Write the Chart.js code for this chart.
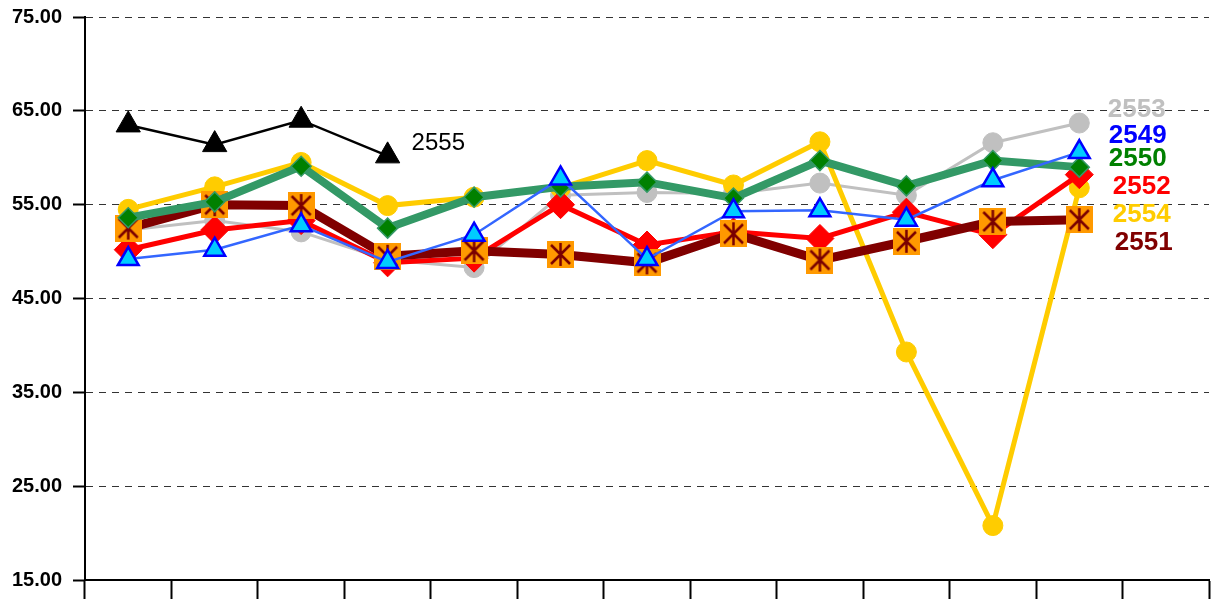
<!DOCTYPE html>
<html>
<head>
<meta charset="utf-8">
<script src="https://cdn.jsdelivr.net/npm/chart.js@4.4.0/dist/chart.umd.min.js"></script>
<style>
  html, body { margin: 0; padding: 0; background: #fff; overflow: hidden; }
  #wrap { width: 1214px; height: 599px; position: relative; }
</style>
</head>
<body>
<div id="wrap"><canvas id="myChart"></canvas></div>
<script>
// 13 slots on the x axis, the last one is left empty for the year labels
var categories = ['1', '2', '3', '4', '5', '6', '7', '8', '9', '10', '11', '12', ''];
var yTicks = [15, 25, 35, 45, 55, 65, 75];

var y2555 = [63.5, 61.4, 64.0, 60.2, null, null, null, null, null, null, null, null];
var y2549 = [49.2, 50.2, 52.8, 48.9, 51.8, 57.8, 49.2, 54.3, 54.4, 53.4, 57.6, 60.6];
var y2550 = [53.6, 55.3, 59.1, 52.5, 55.8, 56.9, 57.4, 55.7, 59.7, 57.0, 59.7, 59.0];
var y2551 = [52.5, 55.0, 54.9, 49.5, 50.1, 49.7, 48.8, 51.9, 49.1, 51.1, 53.2, 53.4];
var y2552 = [50.2, 52.3, 53.3, 48.8, 49.3, 55.0, 50.7, 52.1, 51.4, 54.2, 51.8, 58.2];
var y2554 = [54.5, 56.9, 59.5, 54.9, 55.8, 56.8, 59.7, 57.1, 61.7, 39.3, 20.8, 56.8];
var y2553 = [52.3, 53.3, 52.1, 49.1, 48.3, 56.0, 56.3, 56.2, 57.3, 56.0, 61.6, 63.7];

// orange square with an X and a vertical bar, drawn once and used as point style
var starBox = document.createElement('canvas');
starBox.width = 27; starBox.height = 27;
(function () {
    var c = starBox.getContext('2d');
    c.fillStyle = '#ff9900';
    c.fillRect(0, 0, 27, 27);
    c.strokeStyle = '#7a0000';
    c.lineWidth = 2.5;
    c.beginPath();
    c.moveTo(4, 4); c.lineTo(23, 23);
    c.moveTo(23, 4); c.lineTo(4, 23);
    c.moveTo(13.5, 2); c.lineTo(13.5, 25);
    c.stroke();
})();

var yearLabels = [
    { text: '2553', color: '#c0c0c0', y: 65.1, dx: -58 },
    { text: '2549', color: '#0000ff', y: 62.3, dx: -57 },
    { text: '2550', color: '#008000', y: 59.9, dx: -57 },
    { text: '2552', color: '#ff0000', y: 56.9, dx: -53 },
    { text: '2554', color: '#ffcc00', y: 53.9, dx: -53 },
    { text: '2551', color: '#800000', y: 50.9, dx: -51 }
];

var labelPlugin = {
    id: 'yearLabels',
    afterDatasetsDraw: function (chart) {
        var c = chart.ctx;
        var xs = chart.scales.x, ys = chart.scales.y;
        c.save();
        c.textBaseline = 'middle';
        c.textAlign = 'left';
        c.font = 'bold 26px "Liberation Sans", Arial, sans-serif';
        var x0 = xs.getPixelForValue(12);
        yearLabels.forEach(function (l) {
            c.fillStyle = l.color;
            c.fillText(l.text, x0 + l.dx, ys.getPixelForValue(l.y));
        });
        c.font = '24px "Liberation Sans", Arial, sans-serif';
        c.fillStyle = '#000';
        c.fillText('2555', xs.getPixelForValue(3) + 24, ys.getPixelForValue(61.5));
        c.restore();
    }
};

var ctx = document.getElementById('myChart').getContext('2d');
var myChart = new Chart(ctx, {
    type: 'line',
    data: {
        labels: categories,
        datasets: [
            {
                label: '2555', data: y2555,
                borderColor: '#000', borderWidth: 2.5,
                pointStyle: 'triangle', pointRadius: 14,
                pointBackgroundColor: '#000', pointBorderColor: '#000', pointBorderWidth: 1
            },
            {
                label: '2549', data: y2549,
                borderColor: '#3366ff', borderWidth: 2.5,
                pointStyle: 'triangle', pointRadius: 12,
                pointBackgroundColor: '#00ccff', pointBorderColor: '#0000ff', pointBorderWidth: 2.5
            },
            {
                label: '2550', data: y2550,
                borderColor: '#339966', borderWidth: 8,
                pointStyle: 'rectRot', pointRadius: 10,
                pointBackgroundColor: '#008000', pointBorderColor: '#339966', pointBorderWidth: 1.5
            },
            {
                label: '2551', data: y2551,
                borderColor: '#800000', borderWidth: 9,
                pointStyle: starBox, pointRadius: 13
            },
            {
                label: '2552', data: y2552,
                borderColor: '#ff0000', borderWidth: 5,
                pointStyle: 'rectRot', pointRadius: 14,
                pointBackgroundColor: '#ff0000', pointBorderColor: '#ff0000', pointBorderWidth: 1
            },
            {
                label: '2554', data: y2554,
                borderColor: '#ffcc00', borderWidth: 5,
                pointStyle: 'circle', pointRadius: 10,
                pointBackgroundColor: '#ffcc00', pointBorderColor: '#ffcc00', pointBorderWidth: 1
            },
            {
                label: '2553', data: y2553,
                borderColor: '#c0c0c0', borderWidth: 3,
                pointStyle: 'circle', pointRadius: 10,
                pointBackgroundColor: '#c0c0c0', pointBorderColor: '#c0c0c0', pointBorderWidth: 1
            }
        ]
    },
    options: {
        responsive: true,
        maintainAspectRatio: false,
        animation: false,
        layout: { autoPadding: false, padding: { top: 17, right: 5, left: 0, bottom: 0 } },
        elements: { line: { tension: 0, fill: false } },
        scales: {
            x: {
                offset: true,
                border: { display: true, color: '#000', width: 2 },
                grid: {
                    offset: true,
                    drawOnChartArea: false,
                    drawTicks: true,
                    tickLength: 19,
                    tickColor: '#000',
                    tickWidth: 2
                },
                ticks: { display: false },
                afterFit: function (s) { s.height = 19; }
            },
            y: {
                min: 15,
                max: 75,
                border: { display: true, color: '#000', width: 2, dash: [7, 6] },
                afterBuildTicks: function (s) {
                    s.ticks = yTicks.map(function (v) { return { value: v }; });
                },
                afterFit: function (s) {
                    s.width = 85;
                    s.paddingTop = 0;
                    s.paddingBottom = 0;
                },
                grid: {
                    color: function (c) { return c.tick && c.tick.value === 15 ? 'rgba(0,0,0,0)' : '#333'; },
                    lineWidth: 1,
                    tickLength: 12,
                    tickColor: '#000',
                    tickWidth: 2,
                    tickBorderDash: []
                },
                ticks: {
                    padding: 11,
                    color: '#000',
                    font: { family: '"Liberation Sans", Arial, sans-serif', size: 20, weight: 'bold' },
                    callback: function (v) { return Number(v).toFixed(2); }
                }
            }
        },
        plugins: {
            legend: { display: false },
            tooltip: { enabled: false }
        }
    },
    plugins: [labelPlugin]
});
</script>
</body>
</html>
